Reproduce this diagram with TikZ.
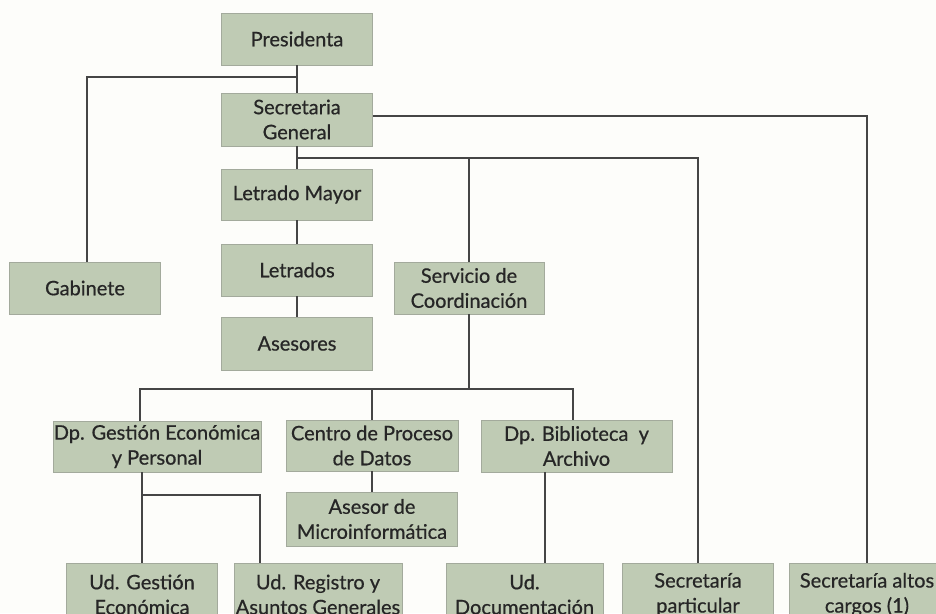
\documentclass[tikz,border=0pt]{standalone}
\usepackage{fontspec}
\setmainfont{Lato}
\newfontfamily\boxfont[FakeBold=0.6]{Lato}
\definecolor{boxfill}{HTML}{BFCBB4}
\definecolor{boxline}{HTML}{A3AA9C}
\definecolor{lnc}{HTML}{454545}
\definecolor{bg}{HTML}{FDFDFA}
\definecolor{txt}{HTML}{262626}
\tikzset{
  orgbox/.style={draw=boxline, line width=0.8pt, fill=boxfill, inner sep=0pt,
    minimum height=52pt, align=center, text=txt,
    font=\boxfont\fontsize{20}{25}\selectfont},
  ln/.style={draw=lnc, line width=1.6pt}
}
\begin{document}
\begin{tikzpicture}[x=1pt,y=-1pt]
\fill[bg] (0,0) rectangle (936,613);
\useasboundingbox (0,0) rectangle (936,613);
% boxes
\node[orgbox, minimum width=151pt] (pres) at (297,39) {Presidenta};
\node[orgbox, minimum width=151pt, minimum height=53pt] (sg) at (297,119.5) {Secretaria\\General};
\node[orgbox, minimum width=151pt, minimum height=51pt] (lm) at (297,194.5) {Letrado Mayor};
\node[orgbox, minimum width=151pt] (letr) at (297,270) {Letrados};
\node[orgbox, minimum width=151pt, minimum height=53pt] (ases) at (297,343.5) {Asesores};
\node[orgbox, minimum width=151pt] (gab) at (85,288) {Gabinete};
\node[orgbox, minimum width=150pt] (serv) at (469,288) {Servicio de\\Coordinación};
\node[orgbox, minimum width=208pt, minimum height=51pt] (dpge) at (157,446.5) {Dp. Gestión Económica\\y Personal};
\node[orgbox, minimum width=172pt, minimum height=51pt] (cpd) at (372,445.5) {Centro de Proceso\\de Datos};
\node[orgbox, minimum width=191pt] (dpba) at (576.5,446) {Dp. Biblioteca~~y\\Archivo};
\node[orgbox, minimum width=171pt, minimum height=54pt] (micro) at (372,519) {Asesor de\\Microinformática};
\node[orgbox, minimum width=151pt, minimum height=63pt] (udge) at (142,594.5) {Ud. Gestión\\Económica};
\node[orgbox, minimum width=168pt, minimum height=63pt] (udreg) at (318,594.5) {Ud. Registro y\\Asuntos Generales};
\node[orgbox, minimum width=157pt, minimum height=63pt] (uddoc) at (524.5,594.5) {Ud.\\Documentación};
\node[orgbox, minimum width=151pt, minimum height=63pt] (secp) at (698,594.5) {Secretaría\\particular};
\node[orgbox, minimum width=156pt, minimum height=63pt] (seca) at (867,594.5) {Secretaría altos\\cargos (1)};
% junctions
\coordinate (jg) at (297,77);
\coordinate (js) at (297,158);
\coordinate (jb) at (469,389);
\coordinate (jd) at (142,495);
% connectors
\draw[ln] (pres.south) -- (sg.north);
\draw[ln] (jg) -| ([xshift=2pt]gab.north);
\draw[ln] (sg.south) -- (lm.north);
\draw[ln] (js) -| (secp.north);
\draw[ln] (js -| serv.north) -- (serv.north);
\draw[ln] ([yshift=3.5pt]sg.east) -| (seca.north);
\draw[ln] (lm.south) -- (letr.north);
\draw[ln] (letr.south) -- (ases.north);
\draw[ln] (serv.south) -- (jb);
\draw[ln] ([xshift=-17pt]dpge.north) |- (jb) -| ([xshift=-3.5pt]dpba.north);
\draw[ln] (jb -| cpd.north) -- (cpd.north);
\draw[ln] (cpd.south) -- (micro.north);
\draw[ln] ([xshift=-15pt]dpge.south) -- (udge.north);
\draw[ln] (jd) -| ([xshift=-58pt]udreg.north);
\draw[ln] ([xshift=-31.5pt]dpba.south) -- ([xshift=20.5pt]uddoc.north);
\end{tikzpicture}
\end{document}
